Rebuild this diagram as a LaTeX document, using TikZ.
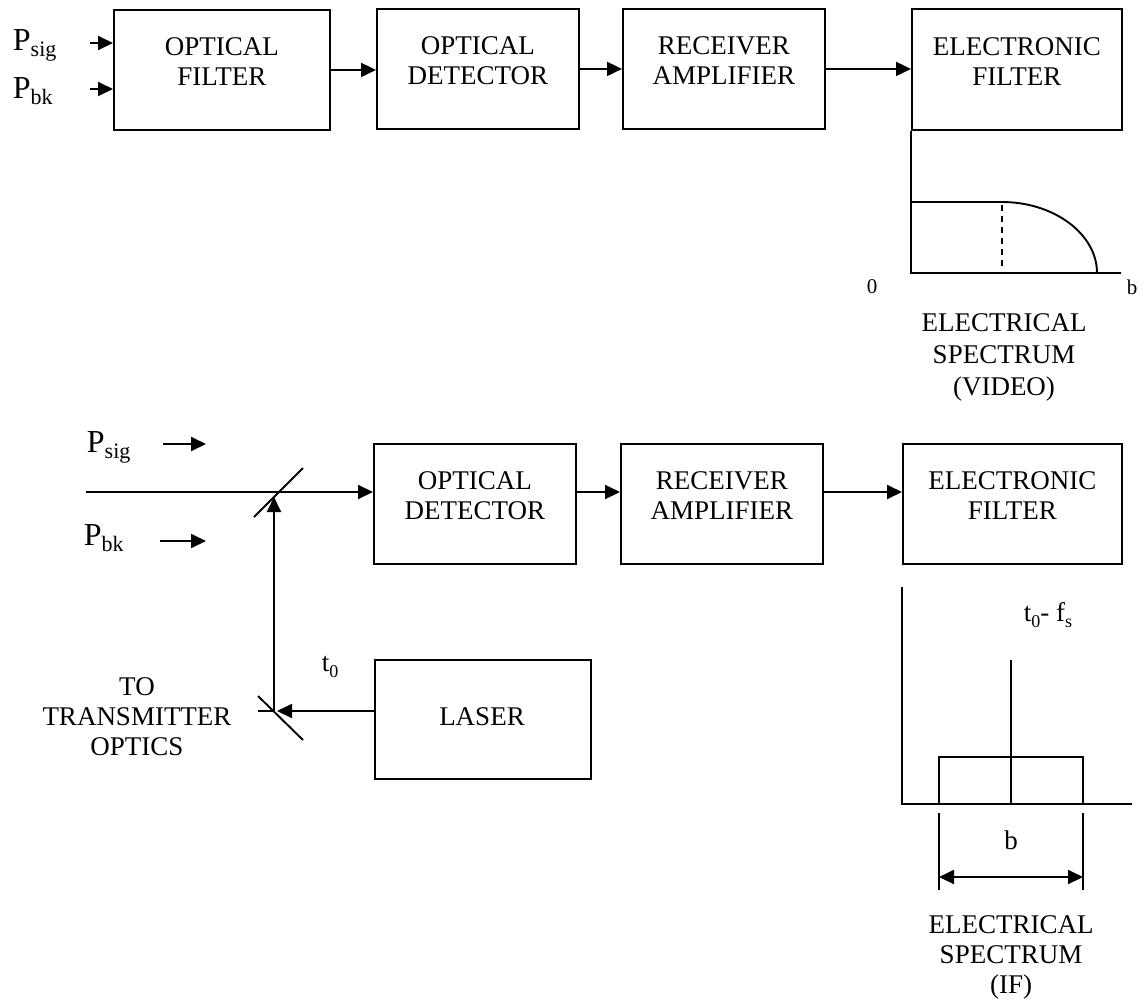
\documentclass[tikz,border=0pt]{standalone}
\usepackage{fontspec}
\setmainfont{Liberation Serif}
\usetikzlibrary{arrows.meta}
\newcommand\mysub[1]{\raisebox{-0.2em}{\fontsize{18}{18}\selectfont #1}}
\newcommand\bigsub[1]{\raisebox{-0.2em}{\fontsize{22}{22}\selectfont #1}}
\begin{document}
\begin{tikzpicture}[x=1pt,y=-1pt, line width=1.9pt,
  blk/.style={draw, line width=1.9pt, inner sep=0pt, anchor=north west},
  txt/.style={font=\fontsize{27}{30}\selectfont, align=center, inner sep=0pt},
  ptxt/.style={font=\fontsize{32}{34}\selectfont, inner sep=0pt, anchor=base west},
  small/.style={font=\fontsize{21}{24}\selectfont, inner sep=0pt},
  arr/.style={-{Triangle[length=15pt,width=14pt]}},
  darr/.style={{Triangle[length=15pt,width=14pt]}-{Triangle[length=15pt,width=14pt]}},
  bblk/.style={txt, yshift=8pt}
]
\useasboundingbox (0,0) rectangle (1145,1005);

% ---------- top chain ----------
\node[blk, minimum width=216pt, minimum height=120pt] (of) at (113,9) {};
\node[blk, minimum width=202pt, minimum height=120pt] (od) at (376,8) {};
\node[blk, minimum width=202pt, minimum height=120pt] (ra) at (622,8) {};
\node[blk, minimum width=210pt, minimum height=121pt] (ef) at (911,8) {};
\node[bblk] (oft) at (of.center) {OPTICAL\\FILTER};
\node[bblk] (odt) at (od.center) {OPTICAL\\DETECTOR};
\node[bblk] (rat) at (ra.center) {RECEIVER\\AMPLIFIER};
\node[bblk] (eft) at (ef.center) {ELECTRONIC\\FILTER};
\draw[arr] (of.east) -- (of.east -| od.west);
\draw[arr] (od.east) -- (od.east -| ra.west);
\draw[arr] (ra.east) -- (ra.east -| ef.west);

\node[ptxt] (psig) at (12,50) {P\bigsub{sig}};
\node[ptxt] (pbk) at (12,98) {P\bigsub{bk}};
\coordinate (ps1) at (90,43);
\coordinate (pb1) at (90,89);
\draw[arr] (ps1) -- (ps1 -| of.west);
\draw[arr] (pb1) -- (pb1 -| of.west);

% top spectrum (video)
\coordinate (o1) at (911,273);
\coordinate (k1) at (1002,202);
\draw (ef.south west) -- (o1) -- (1121,273);
\draw (911,202) -- (k1) .. controls (1054,202) and (1097,234) .. (1097,273);
\draw[line width=1.5pt, dash pattern=on 6pt off 5pt] (1002,205) -- (1002,266);
\node[small] (zero) at (872,287) {0};
\node[small] (bv) at (1132,287) {b};
\node[txt, font=\fontsize{27}{32}\selectfont] (vid) at (1004,357) {ELECTRICAL\\SPECTRUM\\(VIDEO)};

% ---------- bottom chain ----------
\node[blk, minimum width=202pt, minimum height=120pt] (od2) at (373,443) {};
\node[blk, minimum width=202pt, minimum height=120pt] (ra2) at (620,443) {};
\node[blk, minimum width=219pt, minimum height=120pt] (ef2) at (902,443) {};
\node[blk, minimum width=216pt, minimum height=119pt] (las) at (374,659) {};
\node[bblk] (od2t) at (od2.center) {OPTICAL\\DETECTOR};
\node[bblk] (ra2t) at (ra2.center) {RECEIVER\\AMPLIFIER};
\node[bblk] (ef2t) at (ef2.center) {ELECTRONIC\\FILTER};
\node[txt] (last) at (482,717) {LASER};

\coordinate (in) at (86,492);
\draw[arr] (in) -- (in -| od2.west);
\draw[arr] (od2.east |- in) -- (ra2.west |- in);
\draw[arr] (ra2.east |- in) -- (ef2.west |- in);

\node[ptxt] (psig2) at (86,452) {P\bigsub{sig}};
\node[ptxt] (pbk2) at (83,545) {P\bigsub{bk}};
\coordinate (a1) at (163,444); \coordinate (a1e) at (206,444);
\coordinate (a2) at (160,541); \coordinate (a2e) at (206,541);
\draw[arr] (a1) -- (a1e);
\draw[arr] (a2) -- (a2e);

% mirrors
\coordinate (tm) at (274,497);
\coordinate (bm) at (274,711);
\draw (254,517) -- (303,468);
\draw (258,696) -- (303,740);
\draw[arr] (bm) -- (tm);
\draw[arr] (las.west |- bm) -- (277,711);
\draw (bm) -- (258,711);
\node[txt] (t0) at (330,667) {t\mysub{0}};
\node[txt] (tto) at (137,717) {TO\\TRANSMITTER\\OPTICS};

% bottom spectrum (IF)
\coordinate (o2) at (902,804);
\draw (902,587) -- (o2) -- (1132,804);
\draw (939,804) -- (939,757) -- (1083,757) -- (1083,804);
\draw (1011,660) -- (1011,804);
\coordinate (d1) at (939,877);
\coordinate (d2) at (1083,877);
\draw (939,813) -- (939,890);
\draw (1083,813) -- (1083,890);
\draw[darr] (d1) -- (d2);
\node[txt] (bif) at (1011,840) {b};
\node[txt] (tfs) at (1048,615) {t\mysub{0}- f\mysub{s}};
\node[txt] (ifl) at (1011,957) {ELECTRICAL\\SPECTRUM\\(IF)};
\end{tikzpicture}
\end{document}
